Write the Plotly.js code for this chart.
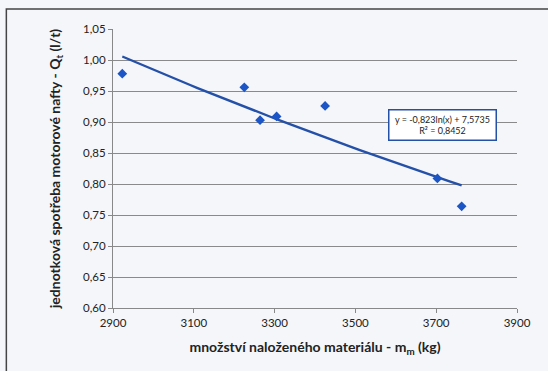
<!DOCTYPE html>
<html>
<head>
<meta charset="utf-8">
<script src="https://cdn.plot.ly/plotly-3.0.1.min.js"></script>
<style>
html,body{margin:0;padding:0;background:#f4f6f9;}
#chart{width:548px;height:371px;}
</style>
</head>
<body>
<div id="chart"></div>
<script>
// Data
const massKg = [2923, 3225, 3264, 3305, 3425, 3703, 3763];
const consumption = [0.978, 0.956, 0.903, 0.909, 0.926, 0.809, 0.764];
// Logarithmic trendline shown on the chart: y = a*ln(x) + b
const trendA = -0.823;
const trendB = 7.5735;
const trendLabel = "y = -0,823ln(x) + 7,5735<br>R² = 0,8452";
const yTicks = [0.60, 0.65, 0.70, 0.75, 0.80, 0.85, 0.90, 0.95, 1.00, 1.05];
const xTicks = [2900, 3100, 3300, 3500, 3700, 3900];

const xMin = Math.min(...massKg), xMax = Math.max(...massKg);
const trendX = [], trendY = [];
for (let i = 0; i <= 50; i++) {
  const x = xMin + (xMax - xMin) * i / 50;
  trendX.push(x);
  trendY.push(trendA * Math.log(x) + trendB);
}

const font = "Lato, 'Open Sans', sans-serif";
const data = [
  {x: trendX, y: trendY, mode: 'lines', type: 'scatter',
   line: {color: '#2450a8', width: 2.4}, hoverinfo: 'skip'},
  {x: massKg, y: consumption, mode: 'markers', type: 'scatter',
   marker: {symbol: 'diamond', size: 7.5, color: '#1b55c6'}}
];
const layout = {
  width: 548, height: 371,
  margin: {l: 113, r: 31, t: 29, b: 63},
  paper_bgcolor: '#f4f6f9', plot_bgcolor: '#f4f6f9',
  showlegend: false,
  separators: ', ',
  font: {family: font, color: '#222', size: 11},
  xaxis: {
    range: [2900, 3900], tickvals: xTicks, ticks: 'outside', ticklen: 4,
    tickcolor: '#888', showgrid: false, zeroline: false,
    showline: true, linecolor: '#888', linewidth: 1,
    tickfont: {size: 11.5, color: '#222'},
    title: {text: '<b>množství naloženého materiálu - m<sub>m</sub> (kg)</b>',
            font: {size: 14, color: '#222'}, standoff: 14}
  },
  yaxis: {
    range: [0.60, 1.05], tickvals: yTicks, tickformat: '.2f',
    ticks: 'outside', ticklen: 4, tickcolor: '#888',
    showgrid: true, gridcolor: '#8a8a8a', gridwidth: 1,
    zeroline: false, showline: true, linecolor: '#888', linewidth: 1,
    tickfont: {size: 11.5, color: '#222'},
    title: {text: '<b>jednotková spotřeba motorové nafty - Q<sub>t</sub> (l/t)</b>',
            font: {size: 14, color: '#222'}, standoff: 19}
  },
  annotations: [{
    xref: 'paper', yref: 'paper', x: 0.681, y: 0.713,
    xanchor: 'left', yanchor: 'top',
    text: trendLabel, showarrow: false, align: 'center',
    font: {size: 9, color: '#222', family: font},
    bordercolor: '#2450a8', borderwidth: 1.5, borderpad: 3,
    bgcolor: '#ffffff', width: 100
  }],
  shapes: [{
    type: 'rect', xref: 'paper', yref: 'paper',
    x0: -0.264, x1: 1.3, y0: -0.4, y1: 1.072,
    line: {color: '#444', width: 1.5}, fillcolor: 'rgba(0,0,0,0)', layer: 'below'
  }]
};
Plotly.newPlot('chart', data, layout, {displayModeBar: false, staticPlot: true});
</script>
</body>
</html>
